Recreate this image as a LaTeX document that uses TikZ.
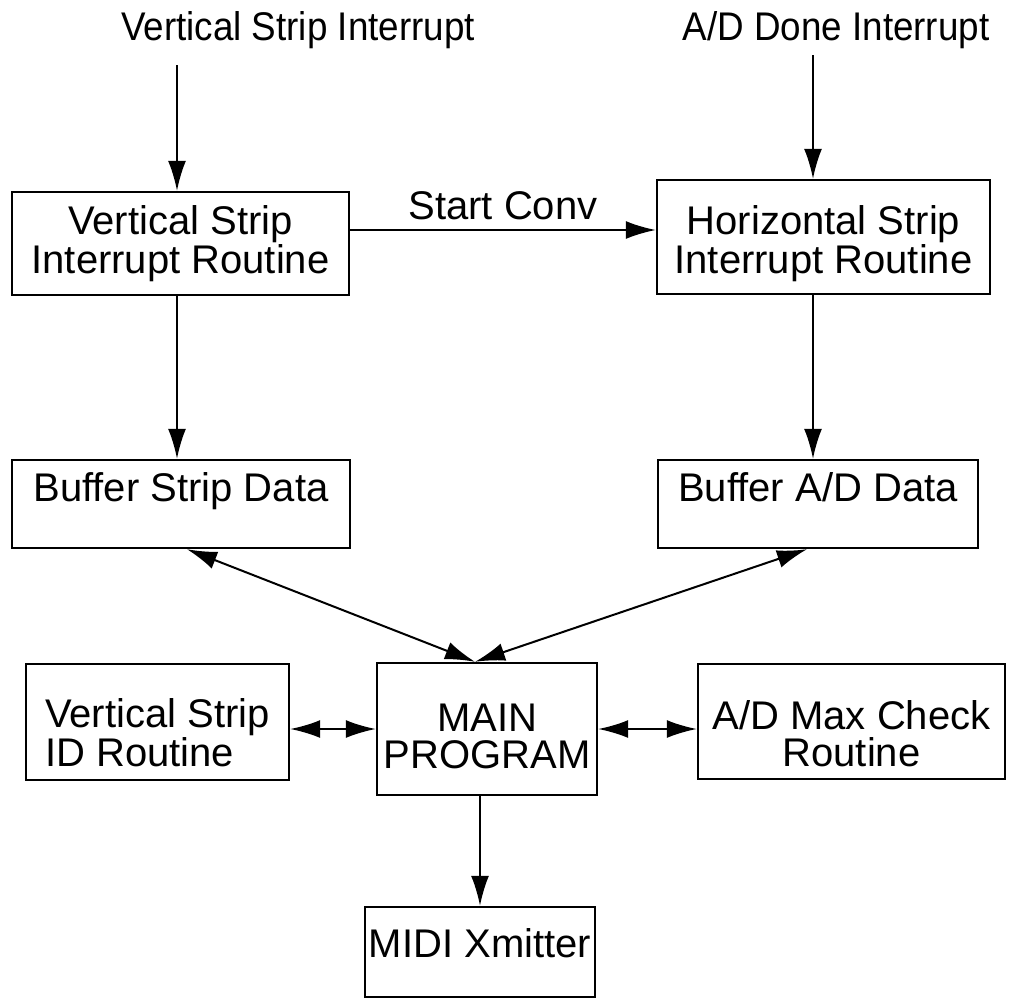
\documentclass[tikz,border=0pt]{standalone}
\usepackage{fontspec}
\setmainfont{Liberation Sans}
\newfontfamily\narrowfont[FakeStretch=0.92]{Liberation Sans}
\usetikzlibrary{arrows.meta,positioning}

\begin{document}
\begin{tikzpicture}[x=0.5pt,y=-0.5pt,
            box/.style={draw,rectangle,line width=1.2pt,inner sep=2pt,align=center,font=\fontsize{20}{18.5}\selectfont},
            toptext/.style={box,text height=18.5pt,text depth=21.5pt},
            src/.style={font=\narrowfont\fontsize{20}{18}\selectfont},
            conn/.style={draw,line width=1pt,-{Latex[length=15pt,width=9pt]}},
            both/.style={draw,line width=1pt,{Latex[length=15pt,width=9pt]}-{Latex[length=15pt,width=9pt]}}
          ]
          \useasboundingbox (0,0) rectangle (1013,997);

          %interrupt sources
          \node[src] (vsirq) at (298,30) {Vertical Strip Interrupt};
          \node[src] (adirq) at (836,30) {A/D Done Interrupt};
          \coordinate (vsfrom) at (177,65);
          \coordinate (adfrom) at (813,55);

          %interrupt routines
          \node[box,text height=38.7pt,text depth=8.8pt,minimum width=168.5pt,minimum height=51.5pt] (vsint) at (180.5,243.5) {Vertical Strip\\Interrupt Routine};
          \node[box,text height=44.7pt,text depth=8.3pt,minimum width=166.5pt,minimum height=57pt] (hsint) at (823.5,237) {Horizontal Strip\\Interrupt Routine};

          %buffers
          \node[toptext,minimum width=169pt,minimum height=44pt] (bufstrip) at (181,504) {Buffer Strip Data};
          \node[toptext,minimum width=160pt,minimum height=44pt] (bufad) at (818,504) {Buffer A/D Data};

          %main loop
          \node[box,text height=50.7pt,text depth=11.3pt,minimum width=110pt,minimum height=66pt] (main) at (487,729) {MAIN\\PROGRAM};
          \node[box,align=left,text height=49.2pt,text depth=4.8pt,minimum width=131.5pt,minimum height=58pt] (vsid) at (157.5,722) {Vertical Strip\\ID Routine};
          \node[box,text height=49.2pt,text depth=4.3pt,minimum width=153.5pt,minimum height=57.5pt] (admax) at (851.5,721.5) {A/D Max Check\\Routine};
          \node[box,text height=23pt,text depth=18pt,minimum width=115pt,minimum height=45pt] (midi) at (480,952) {MIDI Xmitter};

          \path
          (vsfrom) edge[conn] (vsfrom |- vsint.north)
          (adfrom) edge[conn] (adfrom |- hsint.north)
          (vsint.south -| vsfrom) edge[conn] (bufstrip.north -| vsfrom)
          (hsint.south -| adfrom) edge[conn] (bufad.north -| adfrom)
          ([xshift=3pt]bufstrip.south) edge[both] ([xshift=-6pt]main.north)
          ([xshift=-5.5pt]bufad.south) edge[both] ([xshift=-6pt]main.north)
          (main.west -| vsid.east) edge[both] (main.west)
          (main.east) edge[both] (main.east -| admax.west)
          (midi.north |- main.south) edge[conn] (midi.north)
          ;
          \draw[conn] ([yshift=6.75pt]vsint.east) -- ([yshift=6.75pt]vsint.east -| hsint.west)
            node[midway,above=1pt] (startlbl) {\fontsize{20}{18}\selectfont Start Conv};

      \end{tikzpicture}
\end{document}
